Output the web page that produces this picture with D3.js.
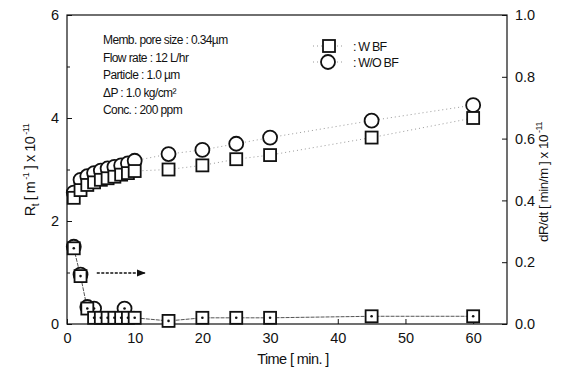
<!DOCTYPE html>
<html>
<head>
<meta charset="utf-8">
<script src="https://cdn.jsdelivr.net/npm/d3@7"></script>
<style>
body { margin: 0; background: #fff; }
text { font-family: "Liberation Sans", Arial, sans-serif; }
</style>
</head>
<body>
<svg id="chart" width="565" height="380"></svg>
<script>
// data
var timeRt = [1, 2, 3, 4, 5, 6, 7, 8, 9, 10, 15, 20, 25, 30, 45, 60];
var rtWithBF = [2.45, 2.6, 2.7, 2.75, 2.8, 2.83, 2.86, 2.9, 2.93, 2.97, 3.0, 3.08, 3.2, 3.28, 3.62, 4.0];
var rtWithoutBF = [2.55, 2.8, 2.87, 2.93, 2.98, 3.02, 3.05, 3.08, 3.12, 3.17, 3.3, 3.38, 3.5, 3.62, 3.95, 4.25];
var dRdtWithBF = [0.245, 0.155, 0.05, 0.02, 0.02, 0.02, 0.02, 0.02, 0.02, 0.02, 0.01, 0.02, 0.02, 0.02, 0.025, 0.025];
var timeDrO = [1, 2, 3, 4, 8.5];
var dRdtWithoutBF = [0.25, 0.16, 0.055, 0.05, 0.05];
var xTicks = [0, 10, 20, 30, 40, 50, 60];
var yLeftTicks = [0, 2, 4, 6];
var yRightTicks = [0, 0.2, 0.4, 0.6, 0.8, 1.0];
var notes = ["Memb. pore size : 0.34\u00b5m", "Flow rate : 12 L/hr", "Particle : 1.0 \u00b5m", "\u0394P : 1.0 kg/cm\u00b2", "Conc. : 200 ppm"];

var svg = d3.select("#chart");
var m = {left: 67, right: 507, top: 15, bottom: 324};

var x = d3.scaleLinear().domain([0, 65]).range([m.left, m.right]);
var yL = d3.scaleLinear().domain([0, 6]).range([m.bottom, m.top]);
var yR = d3.scaleLinear().domain([0, 1]).range([m.bottom, m.top]);

// frame
svg.append("rect").attr("x", m.left).attr("y", m.top).attr("width", m.right - m.left).attr("height", m.bottom - m.top)
    .attr("fill", "none").attr("stroke", "#111").attr("stroke-width", 1.2);

// axes, ticks point inward
svg.append("g").attr("transform", "translate(0," + m.bottom + ")")
    .call(d3.axisBottom(x).tickValues(xTicks).tickSize(-5).tickPadding(9).tickFormat(d3.format("d")));
svg.append("g").attr("transform", "translate(" + m.left + ",0)")
    .call(d3.axisLeft(yL).tickValues(yLeftTicks).tickSize(-5).tickPadding(8).tickFormat(d3.format("d")));
svg.append("g").attr("transform", "translate(" + m.left + ",0)")
    .call(d3.axisLeft(yL).tickValues([1, 3, 5]).tickSize(-3).tickFormat(""));
svg.append("g").attr("transform", "translate(" + m.right + ",0)")
    .call(d3.axisRight(yR).tickValues(yRightTicks).tickSize(-5).tickPadding(8).tickFormat(d3.format(".1f")));
svg.selectAll(".domain").remove();
svg.selectAll(".tick line").attr("stroke", "#111");
svg.selectAll(".tick text").attr("font-size", 14.5).attr("fill", "#111")
    .attr("font-family", "Liberation Sans, Arial, sans-serif");

// dotted connecting lines for Rt
var lineL = function (ys) {
  return d3.line().x(function (d, i) { return x(timeRt[i]); }).y(function (d) { return yL(d); })(ys);
};
[rtWithBF, rtWithoutBF].forEach(function (s) {
  svg.append("path").attr("d", lineL(s)).attr("fill", "none")
    .attr("stroke", "#999").attr("stroke-width", 1).attr("stroke-dasharray", "1,3");
});

// connecting line for dR/dt
svg.append("path")
  .attr("d", d3.line().x(function (d, i) { return x(timeRt[i]); }).y(function (d) { return yR(d); })(dRdtWithBF))
  .attr("fill", "none").attr("stroke", "#555").attr("stroke-width", 1).attr("stroke-dasharray", "4,1");

// markers
function squares(xs, ys, sc, dot) {
  var g = svg.append("g");
  g.selectAll("rect").data(ys).enter().append("rect")
    .attr("x", function (d, i) { return x(xs[i]) - 6; })
    .attr("y", function (d) { return sc(d) - 6; })
    .attr("width", 12).attr("height", 12)
    .attr("fill", "#fff").attr("stroke", "#111").attr("stroke-width", 1.8);
  if (dot) {
    g.selectAll("circle").data(ys).enter().append("circle")
      .attr("cx", function (d, i) { return x(xs[i]); })
      .attr("cy", function (d) { return sc(d); })
      .attr("r", 1.3).attr("fill", "#111");
  }
}
function circles(xs, ys, sc, dot) {
  var g = svg.append("g");
  g.selectAll("circle.m").data(ys).enter().append("circle").attr("class", "m")
    .attr("cx", function (d, i) { return x(xs[i]); })
    .attr("cy", function (d) { return sc(d); })
    .attr("r", 7).attr("fill", "#fff").attr("stroke", "#111").attr("stroke-width", 1.8);
  if (dot) {
    g.selectAll("circle.d").data(ys).enter().append("circle").attr("class", "d")
      .attr("cx", function (d, i) { return x(xs[i]); })
      .attr("cy", function (d) { return sc(d); })
      .attr("r", 1.3).attr("fill", "#111");
  }
}

circles(timeRt, rtWithoutBF, yL, false);
squares(timeRt, rtWithBF, yL, false);
circles(timeDrO, dRdtWithoutBF, yR, true);
squares(timeRt, dRdtWithBF, yR, true);

// arrow pointing to the right axis
svg.append("defs").append("marker").attr("id", "arr").attr("viewBox", "0 0 10 10")
  .attr("refX", 9).attr("refY", 5).attr("markerWidth", 7).attr("markerHeight", 7).attr("orient", "auto")
  .append("path").attr("d", "M0,1 L10,5 L0,9 Z").attr("fill", "#111");
svg.append("line").attr("x1", x(4.4)).attr("x2", x(11.5)).attr("y1", yR(0.165)).attr("y2", yR(0.165))
  .attr("stroke", "#111").attr("stroke-width", 1.3).attr("stroke-dasharray", "3,1.5").attr("marker-end", "url(#arr)");

// notes
svg.append("g").selectAll("text").data(notes).enter().append("text")
  .attr("x", 103).attr("y", function (d, i) { return 44 + i * 17.5; })
  .attr("font-size", 12).attr("letter-spacing", -0.6).attr("fill", "#111").text(function (d) { return d; });

// legend
var leg = svg.append("g");
[0, 1].forEach(function (i) {
  var ly = 46 + i * 16;
  leg.append("line").attr("x1", 313).attr("x2", 345).attr("y1", ly).attr("y2", ly)
    .attr("stroke", "#999").attr("stroke-dasharray", "1,3");
  if (i === 0) {
    leg.append("rect").attr("x", 323).attr("y", ly - 6).attr("width", 12).attr("height", 12)
      .attr("fill", "#fff").attr("stroke", "#111").attr("stroke-width", 1.8);
  } else {
    leg.append("circle").attr("cx", 328).attr("cy", ly).attr("r", 7)
      .attr("fill", "#fff").attr("stroke", "#111").attr("stroke-width", 1.8);
  }
  leg.append("text").attr("x", 353).attr("y", ly + 4.5).attr("font-size", 12.5).attr("letter-spacing", -0.8)
    .attr("fill", "#111").text(i === 0 ? ":  W BF" : ":  W/O BF");
});

// axis titles
svg.append("text").attr("x", 293).attr("y", 364).attr("text-anchor", "middle")
  .attr("font-size", 14.5).attr("letter-spacing", -0.6).attr("fill", "#111").text("Time [ min. ]");

var tl = svg.append("text").attr("transform", "translate(35,170) rotate(-90)").attr("text-anchor", "middle")
  .attr("font-size", 14.5).attr("letter-spacing", -0.5).attr("fill", "#111");
tl.append("tspan").text("R");
tl.append("tspan").attr("font-size", 10).attr("dy", 4).text("t");
tl.append("tspan").attr("dy", -4).text(" [ m");
tl.append("tspan").attr("font-size", 9).attr("dy", -6).text(" -1");
tl.append("tspan").attr("dy", 6).text(" ] x 10");
tl.append("tspan").attr("font-size", 9).attr("dy", -6).text(" -11");

var tr = svg.append("text").attr("transform", "translate(548,182) rotate(-90)").attr("text-anchor", "middle")
  .attr("font-size", 13.5).attr("letter-spacing", -0.5).attr("fill", "#111");
tr.append("tspan").text("dR/dt [ min/m ] x 10");
tr.append("tspan").attr("font-size", 9).attr("dy", -6).text(" -11");
</script>
</body>
</html>
